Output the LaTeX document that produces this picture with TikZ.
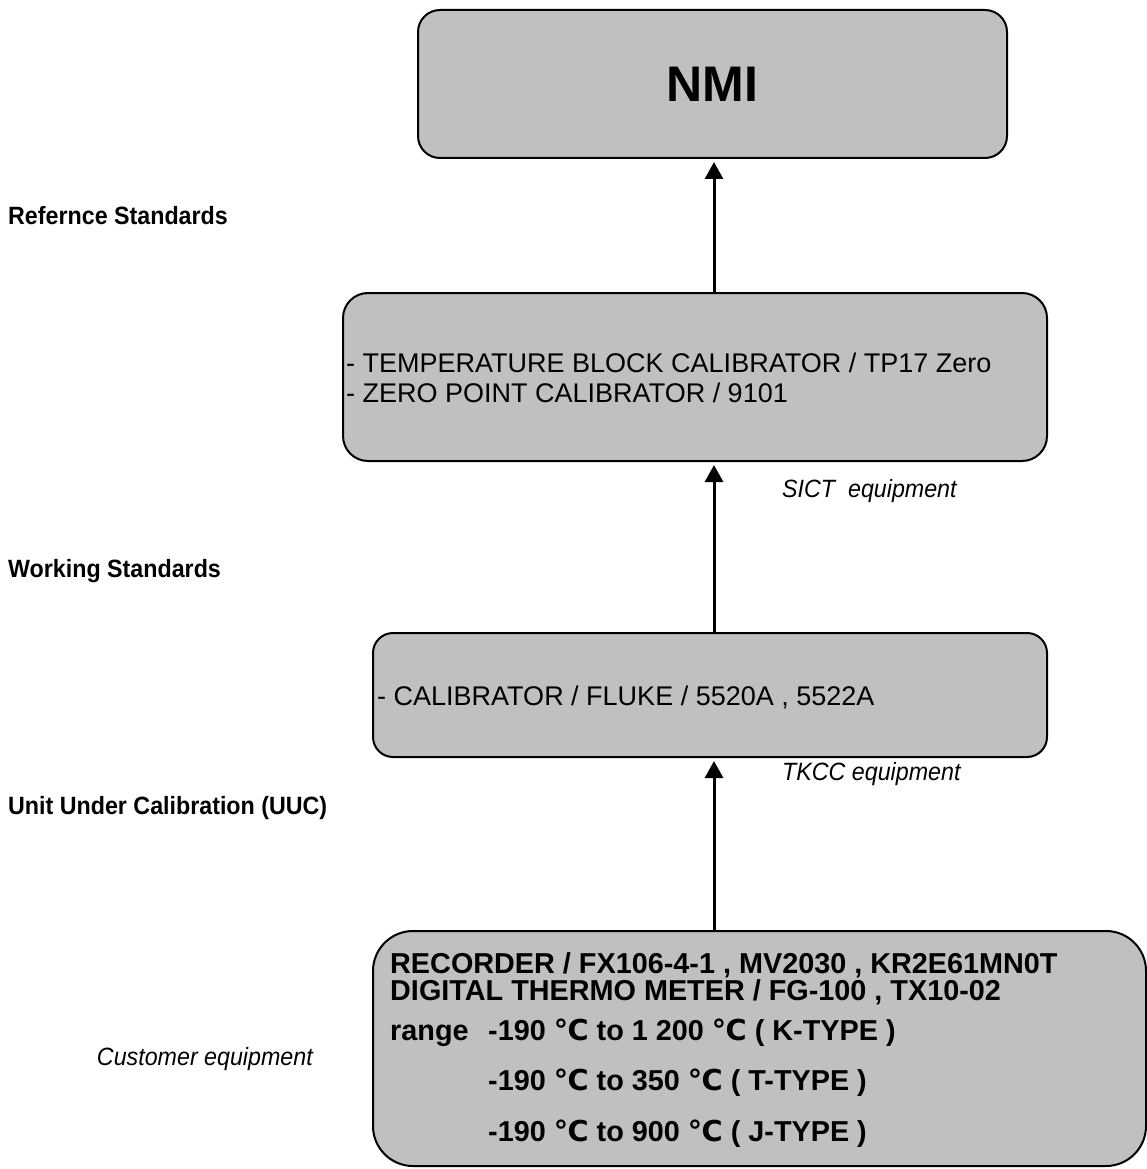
\documentclass[tikz,border=0pt]{standalone}
\usepackage{fontspec}
\setmainfont{Liberation Sans}
\newfontfamily\lblfont[FakeStretch=0.93]{Liberation Sans}
\newfontfamily\symf{DejaVu Sans}
\usetikzlibrary{arrows.meta}
\definecolor{boxgray}{HTML}{C0C0C0}
\newcommand{\dgc}{{\symf ℃}}
\begin{document}
\begin{tikzpicture}[x=1pt,y=-1pt,
  box/.style={draw=black, line width=2pt, fill=boxgray, rounded corners=#1, inner sep=0pt},
  arr/.style={line width=3pt, -{Triangle[width=18pt,length=17pt]}, shorten >=3pt},
  txt/.style={anchor=base west, inner sep=0pt, font=\fontsize{27}{31}\selectfont},
  btxt/.style={anchor=base west, inner sep=0pt, font=\fontsize{28.8}{33}\selectfont\bfseries},
  lbl/.style={anchor=base west, inner sep=0pt, font=\lblfont\fontsize{25}{30}\selectfont\bfseries},
  ital/.style={anchor=base west, inner sep=0pt, font=\lblfont\fontsize{25}{30}\selectfont\itshape}]
\useasboundingbox (0,0) rectangle (1147,1169);
% boxes
\node[box=22pt, minimum width=589pt, minimum height=148pt] (nmi) at (712.5,84) {};
\node[inner sep=0pt, font=\fontsize{50}{56}\selectfont\bfseries] (nmit) at (712.5,84) {NMI};
\node[box=25pt, minimum width=704pt, minimum height=168pt] (ref) at (695,377) {};
\node[box=20pt, minimum width=674pt, minimum height=124pt] (work) at (710,695) {};
\node[box=40pt, minimum width=773pt, minimum height=235pt] (uuc) at (759.5,1048.5) {};
% box texts
\node[txt] (r1) at (346,372) {- TEMPERATURE BLOCK CALIBRATOR / TP17 Zero};
\node[txt] (r2) at (346,402) {- ZERO POINT CALIBRATOR / 9101};
\node[txt] (w1) at (377,705) {- CALIBRATOR / FLUKE / 5520A , 5522A};
\node[btxt] (u1) at (390,973) {RECORDER / FX106-4-1 , MV2030 , KR2E61MN0T};
\node[btxt] (u2) at (390,1000) {DIGITAL THERMO METER / FG-100 , TX10-02};
\node[btxt] (u3) at (390,1040) {range};
\node[btxt] (u3b) at (488,1040) {-190 \dgc\ to 1 200 \dgc\ ( K-TYPE )};
\node[btxt] (u4) at (488,1090) {-190 \dgc\ to 350 \dgc\ ( T-TYPE )};
\node[btxt] (u5) at (488,1141) {-190 \dgc\ to 900 \dgc\ ( J-TYPE )};
% arrows
\coordinate (ax) at (714,0);
\draw[arr] (ax |- ref.north) -- (ax |- nmi.south);
\draw[arr] (ax |- work.north) -- (ax |- ref.south);
\draw[arr] (ax |- uuc.north) -- (ax |- work.south);
% side labels
\node[lbl] (l1) at (8,224) {Refernce Standards};
\node[lbl] (l2) at (8,577) {Working Standards};
\node[lbl] (l3) at (8,814) {Unit Under Calibration (UUC)};
\node[ital] (e1) at (782,497) {SICT\ \ equipment};
\node[ital] (e2) at (782,780) {TKCC equipment};
\node[ital, anchor=base east] (e3) at (313,1065) {Customer equipment};
\end{tikzpicture}
\end{document}
